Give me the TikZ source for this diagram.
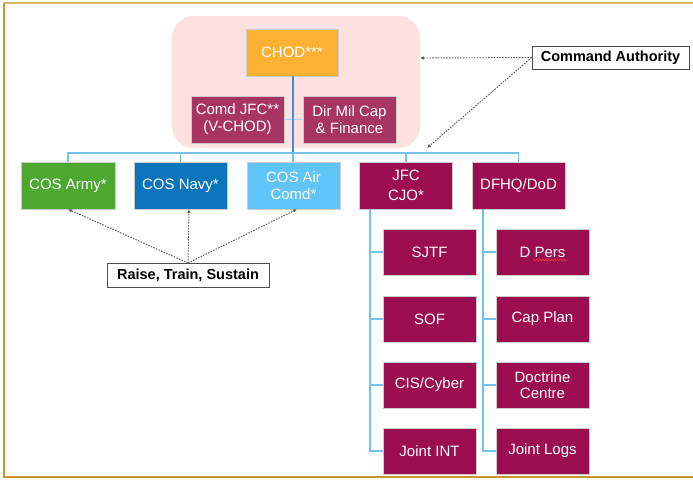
\documentclass[tikz,border=0pt]{standalone}
\usepackage{fontspec}
\setmainfont{Liberation Sans}
\usetikzlibrary{arrows.meta,decorations.pathmorphing}

\definecolor{frameGold}{HTML}{C8962E}
\definecolor{pinkArea}{HTML}{FDE1E1}
\definecolor{chodOrange}{HTML}{FCB132}
\definecolor{maroon}{HTML}{9C0E4F}
\definecolor{maroonSoft}{HTML}{A83561}
\definecolor{armyGreen}{HTML}{4CA82E}
\definecolor{navyBlue}{HTML}{0B75BC}
\definecolor{airBlue}{HTML}{60C4F6}
\definecolor{linkBlue}{HTML}{72C3EC}
\definecolor{trunkBlue}{HTML}{3E90D2}
\definecolor{arrowGray}{HTML}{5A5A5A}
\definecolor{spellRed}{HTML}{E0303A}

\tikzset{
  orgbox/.style={draw=white!80!black, line width=0.4pt, text=white,
    minimum width=93pt, minimum height=47pt, inner sep=1pt, align=center,
    font=\fontsize{15}{17}\selectfont},
  subbox/.style={orgbox, fill=maroon, minimum height=46pt},
  tagbox/.style={draw=black!70, line width=0.6pt, fill=white, inner sep=2pt,
    font=\fontsize{14.5}{17}\selectfont\bfseries},
  link/.style={draw=linkBlue, line width=1.4pt},
  hint/.style={draw=arrowGray, line width=0.9pt, dash pattern=on 1.6pt off 1.2pt,
    -{Latex[length=4pt,width=3.5pt]}},
}

\begin{document}
\begin{tikzpicture}[x=1pt,y=-1pt]
\useasboundingbox (0,0) rectangle (693,479);
\fill[white] (0,0) rectangle (693,479);

% outer frame (open on the right)
\draw[frameGold!70!white, line width=1.6pt] (4,3) -- (693,3);
\draw[frameGold, line width=2pt] (4,3) -- (4,477) -- (693,477);

% leadership area
\node[fill=pinkArea, rounded corners=22pt, minimum width=248pt, minimum height=132pt]
  (lead) at (296,82) {};
\node[orgbox, fill=chodOrange, minimum width=92pt] (chod) at (292,52.5) {CHOD***};
\node[orgbox, fill=maroonSoft] (comd) at (237.5,119.5) {Comd JFC**\\(V-CHOD)};
\node[orgbox, fill=maroonSoft] (dmc) at (349.5,119.5) {Dir Mil Cap\\\& Finance};
\draw[draw=linkBlue!60!white, line width=1pt] (comd.east) -- (dmc.west);

% service chiefs and joint bodies
\node[orgbox, fill=armyGreen, minimum width=94pt] (army) at (68,185.5) {COS Army*};
\node[orgbox, fill=navyBlue] (navy) at (180.5,185.5) {COS Navy*};
\node[orgbox, fill=airBlue] (air) at (293.5,185.5) {COS Air\\Comd*};
\node[orgbox, fill=maroon, font=\fontsize{15}{20}\selectfont] (jfc) at (406,185.5) {JFC\\CJO*};
\node[orgbox, fill=maroon] (dfhq) at (518.5,185.5) {DFHQ/DoD};

% JFC subordinate units
\node[subbox] (sjtf) at (429.5,252) {SJTF};
\node[subbox] (sof) at (429.5,319) {SOF};
\node[subbox] (cis) at (429.5,385) {CIS/Cyber};
\node[subbox] (jint) at (429.5,451) {Joint INT};

% DFHQ subordinate units
\node[subbox] (dpers) at (542.5,252) {D Pers};
\node[subbox] (capplan) at (542.5,319) {Cap Plan};
\node[subbox, font=\fontsize{15}{15.5}\selectfont] (doctrine) at (542.5,385) {Doctrine\\Centre};
\node[subbox] (jlogs) at (542.5,451) {Joint Logs};
% spell-check squiggle under "Pers"
\draw[spellRed, line width=0.8pt, decorate,
  decoration={zigzag, amplitude=0.8pt, segment length=3pt}]
  (533,260) -- (566,260);

% hierarchy connectors
\coordinate (bus) at (293,153);
\draw[draw=trunkBlue, line width=1.4pt] (chod.south -| bus) -- (bus);
\draw[link] (army.north) |- (bus) -| (dfhq.north);
\draw[link] (navy.north) -- (navy.north |- bus);
\draw[link] (air.north -| bus) -- (bus);
\draw[link] (jfc.north) -- (jfc.north |- bus);

\coordinate (jtrunk) at (370,209);
\coordinate (dtrunk) at (483,209);
\draw[link] (jtrunk) |- (jint.west);
\draw[link] (jtrunk |- sjtf.west) -- (sjtf.west);
\draw[link] (jtrunk |- sof.west) -- (sof.west);
\draw[link] (jtrunk |- cis.west) -- (cis.west);
\draw[link] (dtrunk) |- (jlogs.west);
\draw[link] (dtrunk |- dpers.west) -- (dpers.west);
\draw[link] (dtrunk |- capplan.west) -- (capplan.west);
\draw[link] (dtrunk |- doctrine.west) -- (doctrine.west);

% annotation labels and pointers
\node[tagbox, minimum width=157pt, minimum height=23pt] (cmdauth) at (610.5,57.5) {Command Authority};
\node[tagbox, minimum width=162pt, minimum height=24pt] (rts) at (188,275) {Raise, Train, Sustain};

\coordinate (leadEdge) at (420,58);
\coordinate (leadCorner) at (427,148);
\draw[hint] (cmdauth.west) -- (leadEdge);
\draw[hint] (cmdauth.west) -- (leadCorner);

\coordinate (rtsTop) at (188,263);
\draw[hint] (rtsTop) -- (army.south);
\draw[hint] (rtsTop) -- ([xshift=8.5pt]navy.south);
\draw[hint] (rtsTop) -- ([xshift=3.5pt]air.south);
\end{tikzpicture}
\end{document}
